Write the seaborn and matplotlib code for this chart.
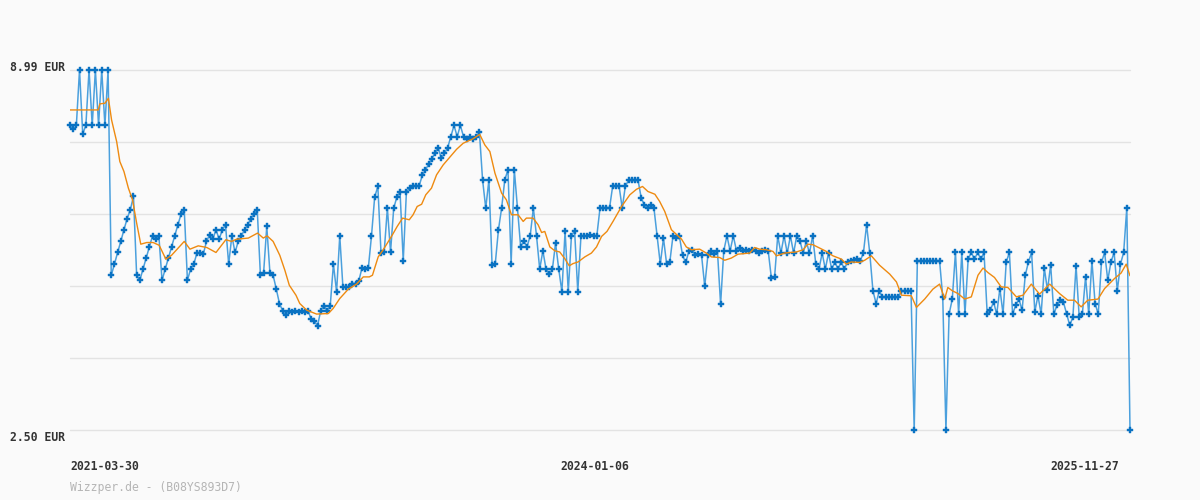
import numpy as np
import pandas as pd
import matplotlib
matplotlib.use("Agg")
import matplotlib.pyplot as plt
import matplotlib.transforms as mtransforms
import seaborn as sns

# ---------------- data ----------------
price = [
    7.99, 7.92, 7.99, 8.99, 7.84, 7.99, 8.99, 7.99, 8.99, 7.99,
    8.99, 7.99, 8.99, 5.29, 5.49, 5.70, 5.90, 6.11, 6.31, 6.47,
    6.71, 5.29, 5.20, 5.40, 5.60, 5.80, 6.00, 5.94, 6.00, 5.20,
    5.40, 5.60, 5.80, 6.00, 6.20, 6.39, 6.47, 5.20, 5.40, 5.49,
    5.69, 5.69, 5.67, 5.90, 6.02, 5.94, 6.11, 5.94, 6.11, 6.20,
    5.49, 6.00, 5.70, 5.90, 6.00, 6.11, 6.20, 6.31, 6.39, 6.47,
    5.29, 5.33, 6.17, 5.33, 5.29, 5.04, 4.78, 4.65, 4.57, 4.65,
    4.63, 4.65, 4.63, 4.65, 4.63, 4.65, 4.50, 4.46, 4.38, 4.65,
    4.74, 4.65, 4.74, 5.49, 4.99, 6.00, 5.07, 5.08, 5.07, 5.14,
    5.14, 5.19, 5.42, 5.40, 5.42, 6.00, 6.70, 6.89, 5.69, 5.71,
    6.50, 5.71, 6.50, 6.70, 6.79, 5.55, 6.79, 6.86, 6.89, 6.90,
    6.90, 7.09, 7.19, 7.29, 7.39, 7.49, 7.59, 7.40, 7.49, 7.59,
    7.79, 7.99, 7.79, 7.99, 7.79, 7.75, 7.79, 7.75, 7.79, 7.87,
    7.01, 6.50, 7.01, 5.47, 5.50, 6.11, 6.50, 7.01, 7.19, 5.50,
    7.19, 6.50, 5.80, 5.91, 5.80, 6.00, 6.50, 6.00, 5.40, 5.73,
    5.40, 5.31, 5.40, 5.87, 5.40, 4.99, 6.09, 4.99, 6.00, 6.09,
    4.99, 6.00, 6.00, 6.00, 6.02, 6.00, 6.00, 6.50, 6.50, 6.50,
    6.50, 6.90, 6.90, 6.90, 6.50, 6.90, 7.00, 7.00, 7.00, 7.00,
    6.68, 6.56, 6.50, 6.56, 6.50, 6.00, 5.49, 5.96, 5.49, 5.53,
    6.00, 5.96, 6.00, 5.65, 5.52, 5.72, 5.75, 5.65, 5.68, 5.65,
    5.09, 5.65, 5.73, 5.68, 5.73, 4.77, 5.73, 6.00, 5.73, 6.00,
    5.73, 5.78, 5.73, 5.75, 5.73, 5.75, 5.73, 5.69, 5.73, 5.75,
    5.73, 5.24, 5.25, 6.00, 5.69, 6.00, 5.69, 6.00, 5.69, 6.00,
    5.91, 5.69, 5.90, 5.69, 6.00, 5.49, 5.40, 5.69, 5.40, 5.69,
    5.40, 5.53, 5.40, 5.53, 5.40, 5.53, 5.55, 5.56, 5.58, 5.55,
    5.69, 6.20, 5.69, 5.01, 4.78, 5.01, 4.89, 4.89, 4.89, 4.89,
    4.89, 4.89, 5.01, 5.01, 5.01, 5.01, 2.50, 5.55, 5.55, 5.55,
    5.55, 5.55, 5.55, 5.55, 5.55, 4.89, 2.50, 4.59, 4.86, 5.70,
    4.59, 5.70, 4.59, 5.58, 5.70, 5.58, 5.70, 5.58, 5.70, 4.60,
    4.66, 4.81, 4.59, 5.05, 4.59, 5.53, 5.70, 4.59, 4.75, 4.86,
    4.66, 5.29, 5.53, 5.70, 4.63, 4.92, 4.59, 5.42, 5.02, 5.48,
    4.59, 4.75, 4.84, 4.81, 4.60, 4.39, 4.53, 5.46, 4.53, 4.60,
    5.26, 4.59, 5.55, 4.78, 4.59, 5.52, 5.70, 5.20, 5.53, 5.70,
    5.01, 5.49, 5.70, 6.51, 2.50,
]

# moving average line (orange), read at its own positions along the series
avg_pos = [
    0, 8.9, 9.4, 11.0, 12.1, 13.1, 14.7, 15.7, 17.0, 18.4,
    19.7, 21.0, 22.3, 24.2, 26.2, 28.1, 30.2, 32.0, 34.1, 36.0,
    37.8, 40.4, 43.1, 46.0, 49.1, 50.9, 52.5, 56.2, 59.1, 60.9,
    62.1, 64.0, 66.1, 67.7, 69.1, 71.2, 72.4, 74.6, 77.7, 81.4,
    82.9, 85.0, 87.7, 90.3, 92.4, 94.3, 95.3, 97.1, 98.7, 101.3,
    103.1, 104.8, 106.9, 108.1, 109.4, 110.8, 112.1, 113.9, 115.5, 117.6,
    119.7, 121.8, 123.9, 127.0, 129.1, 130.7, 132.3, 133.9, 136.0, 137.5,
    139.1, 141.2, 142.8, 143.8, 145.9, 147.5, 148.6, 149.6, 151.2, 152.8,
    154.3, 155.9, 157.3, 158.5, 160.1, 162.2, 164.3, 165.9, 167.5, 169.2,
    171.1, 173.8, 176.4, 178.5, 180.4, 182.1, 184.3, 185.8, 187.4, 189.5,
    192.7, 194.2, 195.8, 198.4, 200.5, 202.1, 204.7, 206.3, 208.4, 210.5,
    214.2, 215.7, 217.3, 219.4, 221.5, 222.6, 225.2, 228.9, 231.0, 232.5,
    234.1, 236.2, 238.3, 240.4, 243.1, 244.6, 246.2, 248.8, 250.4, 252.5,
    255.1, 258.3, 260.4, 262.0, 265.1, 266.7, 269.3, 271.9, 274.0, 275.6,
    276.6, 278.0, 279.8, 281.9, 284.0, 286.1, 287.7, 289.2, 291.3, 293.4,
    295.5, 298.2, 300.3, 302.9, 305.5, 308.7, 311.8, 314.4, 316.5, 318.6,
    320.7, 323.9, 326.0, 329.1, 331.2, 332.8, 334.0,
]
avg_val = [
    8.27, 8.27, 8.38, 8.39, 8.48, 8.09, 7.70, 7.34, 7.16, 6.86,
    6.65, 6.23, 5.85, 5.88, 5.88, 5.83, 5.58, 5.65, 5.78, 5.90,
    5.76, 5.82, 5.79, 5.70, 5.93, 5.90, 5.94, 5.96, 6.05, 5.96,
    6.00, 5.90, 5.65, 5.38, 5.11, 4.93, 4.78, 4.66, 4.59, 4.60,
    4.69, 4.87, 5.04, 5.13, 5.26, 5.26, 5.29, 5.62, 5.75, 5.99,
    6.17, 6.32, 6.29, 6.38, 6.53, 6.57, 6.74, 6.86, 7.10, 7.28,
    7.42, 7.56, 7.67, 7.75, 7.83, 7.64, 7.52, 7.13, 6.77, 6.65,
    6.38, 6.38, 6.26, 6.32, 6.32, 6.20, 6.06, 6.08, 5.80, 5.73,
    5.71, 5.59, 5.46, 5.50, 5.53, 5.62, 5.69, 5.80, 5.99, 6.08,
    6.26, 6.53, 6.74, 6.84, 6.89, 6.80, 6.75, 6.62, 6.44, 6.11,
    5.94, 5.80, 5.75, 5.76, 5.69, 5.62, 5.61, 5.56, 5.60, 5.67,
    5.69, 5.79, 5.76, 5.75, 5.72, 5.64, 5.69, 5.71, 5.75, 5.85,
    5.84, 5.78, 5.72, 5.64, 5.58, 5.49, 5.53, 5.52, 5.56, 5.64,
    5.47, 5.31, 5.17, 4.93, 4.92, 4.71, 4.86, 5.04, 5.13, 4.86,
    5.07, 5.01, 4.96, 4.86, 4.90, 5.29, 5.42, 5.34, 5.25, 5.08,
    5.07, 4.90, 4.93, 5.13, 4.95, 5.13, 4.96, 4.84, 4.84, 4.72,
    4.84, 4.86, 5.05, 5.23, 5.33, 5.49, 5.28,
]

x_tick_labels = ["2021-03-30", "2024-01-06", "2025-11-27"]
y_min_label = "2.50 EUR"
y_max_label = "8.99 EUR"
y_min, y_max = 2.50, 8.99
watermark = "Wizzper.de - (B08YS893D7)"

# ---------------- plot ----------------
sns.set_theme(style="white")
plt.rcParams["font.family"] = ["DejaVu Sans Mono", "DejaVu Sans"]

BG = "#fafafa"
fig = plt.figure(figsize=(12, 5), dpi=100, facecolor=BG)
ax = fig.add_axes([70 / 1200, 70 / 500, 1060 / 1200, 360 / 500])
ax.set_facecolor(BG)

df = pd.DataFrame({"idx": np.arange(len(price)), "price": price})
dfa = pd.DataFrame({"idx": avg_pos, "avg": avg_val})

sns.lineplot(data=df, x="idx", y="price", ax=ax, color="#4ba0dd", lw=1.1,
             marker="P", markersize=4.3, markerfacecolor="#0a72c2",
             markeredgecolor="#0a72c2", markeredgewidth=0.3,
             clip_on=False, zorder=3, estimator=None, sort=False)
sns.lineplot(data=dfa, x="idx", y="avg", ax=ax, color="#ee8a10", lw=1.0,
             zorder=4, estimator=None, sort=False)

n = len(price)
ax.set_xlim(0, n - 1)
ax.set_ylim(y_min, y_max)

levels = np.linspace(y_min, y_max, 6)
for lv in levels:
    ax.axhline(lv, color="#e3e3e3", lw=1.0, zorder=1, clip_on=False)

for s in ax.spines.values():
    s.set_visible(False)
ax.set_xlabel("")
ax.set_ylabel("")
ax.set_xticks([])
ax.set_yticks([])

txt_color = "#333333"
fs = 8.3
# y labels
tr_y = mtransforms.blended_transform_factory(ax.transAxes, ax.transData)
ax.text(-5 / 1060, y_max, y_max_label, transform=mtransforms.offset_copy(tr_y, fig=fig, x=0, y=2.5, units="dots"),
        ha="right", va="center", fontsize=fs, fontweight="bold", color=txt_color)
ax.text(-5 / 1060, y_min, y_min_label, transform=mtransforms.offset_copy(tr_y, fig=fig, x=0, y=-7.5, units="dots"),
        ha="right", va="center", fontsize=fs, fontweight="bold", color=txt_color)

# x labels
tr_x = mtransforms.blended_transform_factory(ax.transData, fig.transFigure)
ypos = 1 - 467 / 500
ax.text(0, ypos, x_tick_labels[0], transform=tr_x, ha="left", va="center",
        fontsize=fs, fontweight="bold", color=txt_color)
ax.text((n - 1) / 2, ypos, x_tick_labels[1], transform=mtransforms.offset_copy(tr_x, fig=fig, x=-5, y=0, units="dots"),
        ha="center", va="center", fontsize=fs, fontweight="bold", color=txt_color)
ax.text(n - 1, ypos, x_tick_labels[2], transform=mtransforms.offset_copy(tr_x, fig=fig, x=-11, y=0, units="dots"),
        ha="right", va="center", fontsize=fs, fontweight="bold", color=txt_color)

fig.text(70 / 1200, 1 - 487 / 500, watermark, ha="left", va="center",
         fontsize=fs, color="#b5b5b5")

fig.savefig("out.png", dpi=100, facecolor=BG)
